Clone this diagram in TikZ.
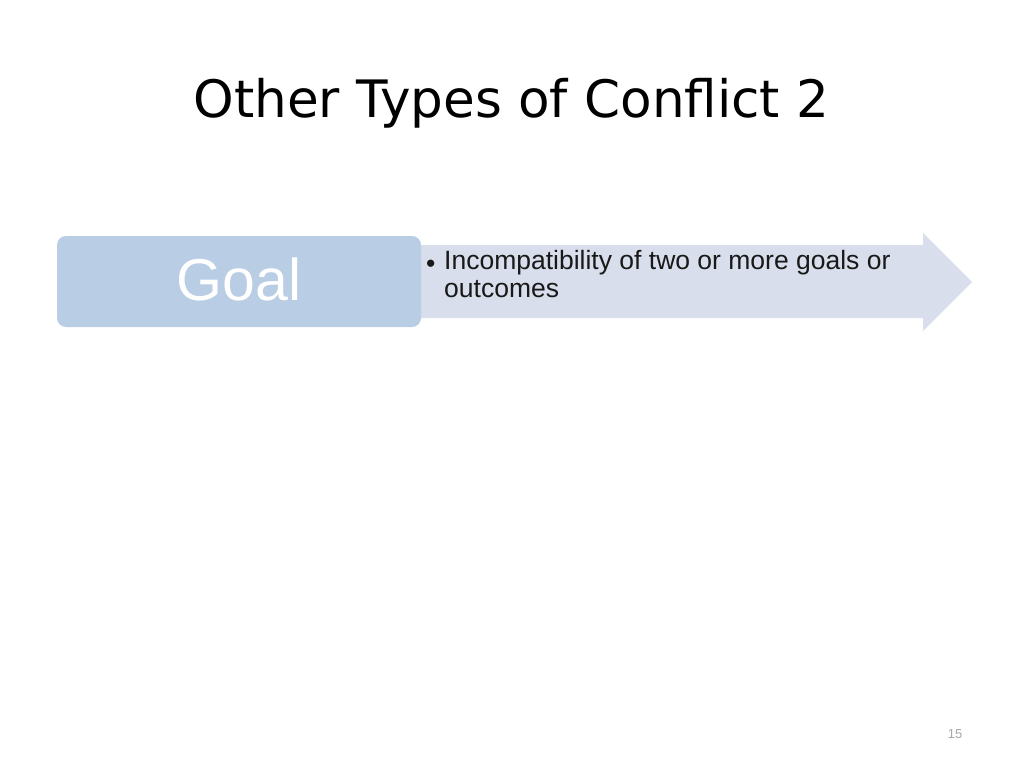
\documentclass[tikz,border=0pt]{standalone}
\usepackage{fontspec}
\setmainfont{Liberation Sans}
\newfontfamily\titlefont{DejaVu Sans}
\definecolor{goalblue}{HTML}{B9CDE5}
\definecolor{arrowgrey}{HTML}{D8DEEC}
\definecolor{pagegrey}{HTML}{A6A6A6}
\tikzset{
  goalbox/.style={fill=goalblue, rounded corners=9pt, minimum width=364pt, minimum height=91pt, inner sep=0pt},
  bodytext/.style={font=\fontsize{26.5}{28}\selectfont, inner sep=0pt, text=black!90}
}
\begin{document}
\begin{tikzpicture}[x=1pt, y=-1pt]
    \useasboundingbox (0,0) rectangle (1024,768);

    \node[font=\titlefont\fontsize{51.6}{60}\selectfont, anchor=base] (title) at (511.5,117) {Other Types of Conflict 2};

    % arrow behind the goal box
    \coordinate (tip) at (972,282);
    \fill[arrowgrey] (415,245) -- (923,245) -- (923,233) -- (tip) -- (923,331) -- (923,318) -- (415,318) -- cycle;

    \node[goalbox] (goal) at (239,281.5) {};
    \node[font=\fontsize{59}{70}\selectfont, text=white, anchor=base] (goaltext) at (239,300) {Goal};

    \node[bodytext, anchor=base west] (bullet) at (426,272) {\textbullet};
    \node[bodytext, align=left, anchor=north west] (desc) at (444,250)
        {Incompatibility of two or more goals or\\outcomes};

    \node[font=\fontsize{13}{15}\selectfont, text=pagegrey, anchor=base] (page) at (955,738) {15};
\end{tikzpicture}
\end{document}
